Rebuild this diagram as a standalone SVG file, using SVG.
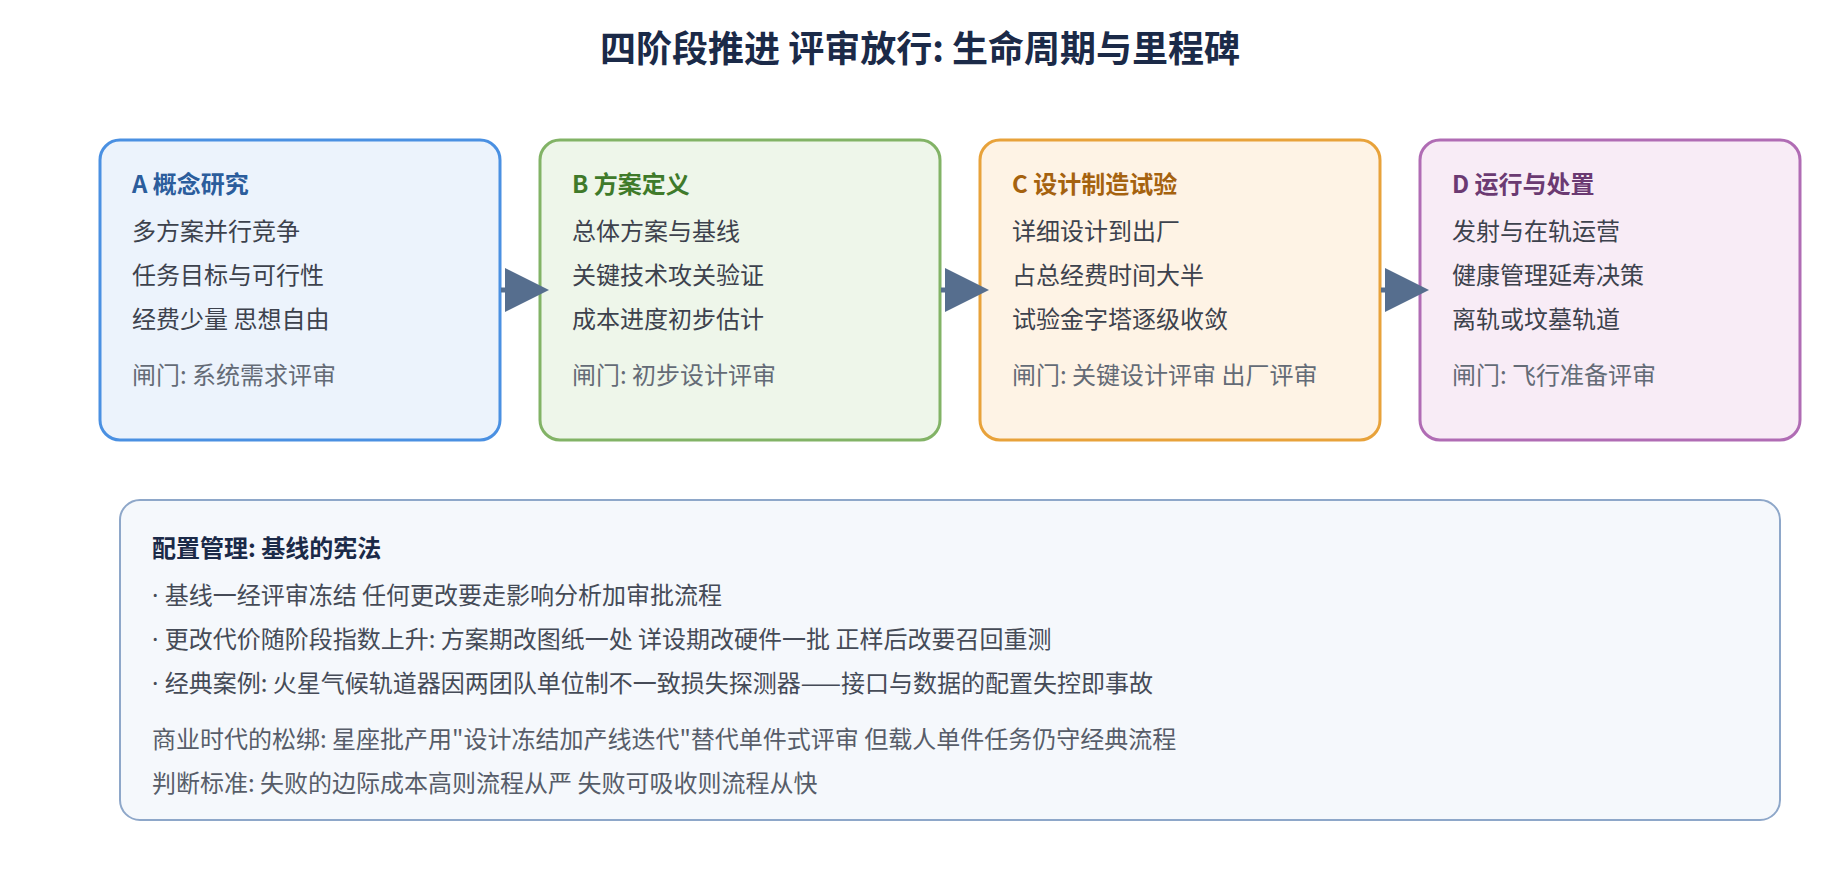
<svg xmlns="http://www.w3.org/2000/svg" width="1840" height="880" viewBox="0 0 1840 880">
<style>
text{font-family:"Noto Sans CJK SC","Noto Sans",sans-serif;}
.title{font-size:36px;font-weight:700;fill:#1b2a48;}
.box{stroke-width:3;}
.h{font-size:24px;font-weight:700;}
.b{font-size:24px;fill:#3d424d;}
.g{font-size:24px;fill:#646b76;}
.arrow{fill:#566e8e;stroke:none;}
.stub{stroke:#566e8e;stroke-width:5;}
.nh{font-size:24px;font-weight:700;fill:#1b2a48;}
.nb{font-size:24px;fill:#454b57;}
.nn{font-size:24px;fill:#575d69;}
.dot{font-family:"Noto Sans","DejaVu Sans",sans-serif;}
</style>
<rect width="1840" height="880" fill="#ffffff"/>
<text class="title" x="920" y="62" text-anchor="middle">四阶段推进 评审放行: 生命周期与里程碑</text>
<g id="phase-a">
<rect class="box" x="100" y="140" width="400" height="300" rx="20" fill="#ecf3fc" stroke="#4a90e2"/>
<text class="h" x="132" y="193" fill="#2b5d9c">A 概念研究</text>
<text class="b" x="132" y="240">多方案并行竞争</text>
<text class="b" x="132" y="284">任务目标与可行性</text>
<text class="b" x="132" y="328">经费少量 思想自由</text>
<text class="g" x="132" y="384">闸门: 系统需求评审</text>
</g>
<g id="phase-b">
<rect class="box" x="540" y="140" width="400" height="300" rx="20" fill="#eef6ea" stroke="#82b366"/>
<text class="h" x="572" y="193" fill="#3f7a2a">B 方案定义</text>
<text class="b" x="572" y="240">总体方案与基线</text>
<text class="b" x="572" y="284">关键技术攻关验证</text>
<text class="b" x="572" y="328">成本进度初步估计</text>
<text class="g" x="572" y="384">闸门: 初步设计评审</text>
</g>
<g id="phase-c">
<rect class="box" x="980" y="140" width="400" height="300" rx="20" fill="#fef3e5" stroke="#e8a23a"/>
<text class="h" x="1012" y="193" fill="#a5620f">C 设计制造试验</text>
<text class="b" x="1012" y="240">详细设计到出厂</text>
<text class="b" x="1012" y="284">占总经费时间大半</text>
<text class="b" x="1012" y="328">试验金字塔逐级收敛</text>
<text class="g" x="1012" y="384">闸门: 关键设计评审 出厂评审</text>
</g>
<g id="phase-d">
<rect class="box" x="1420" y="140" width="380" height="300" rx="20" fill="#f8ecf6" stroke="#b06cb4"/>
<text class="h" x="1452" y="193" fill="#6b3a72">D 运行与处置</text>
<text class="b" x="1452" y="240">发射与在轨运营</text>
<text class="b" x="1452" y="284">健康管理延寿决策</text>
<text class="b" x="1452" y="328">离轨或坟墓轨道</text>
<text class="g" x="1452" y="384">闸门: 飞行准备评审</text>
</g>
<g id="connectors">
<line class="stub" x1="501" y1="290" x2="507" y2="290"/>
<polygon class="arrow" points="505,268 549,290 505,312"/>
<line class="stub" x1="941" y1="290" x2="947" y2="290"/>
<polygon class="arrow" points="945,268 989,290 945,312"/>
<line class="stub" x1="1381" y1="290" x2="1387" y2="290"/>
<polygon class="arrow" points="1385,268 1429,290 1385,312"/>
</g>
<g id="config-note">
<rect x="120" y="500" width="1660" height="320" rx="20" fill="#f5f8fc" stroke="#8ea7c9" stroke-width="2"/>
<text class="nh" x="152" y="557">配置管理: 基线的宪法</text>
<text class="nb" x="152" y="604"><tspan class="dot">· </tspan>基线一经评审冻结 任何更改要走影响分析加审批流程</text>
<text class="nb" x="152" y="648"><tspan class="dot">· </tspan>更改代价随阶段指数上升: 方案期改图纸一处 详设期改硬件一批 正样后改要召回重测</text>
<text class="nb" x="152" y="692"><tspan class="dot">· </tspan>经典案例: 火星气候轨道器因两团队单位制不一致损失探测器——接口与数据的配置失控即事故</text>
<text class="nn" x="152" y="748">商业时代的松绑: 星座批产用"设计冻结加产线迭代"替代单件式评审 但载人单件任务仍守经典流程</text>
<text class="nn" x="152" y="792">判断标准: 失败的边际成本高则流程从严 失败可吸收则流程从快</text>
</g>
</svg>
